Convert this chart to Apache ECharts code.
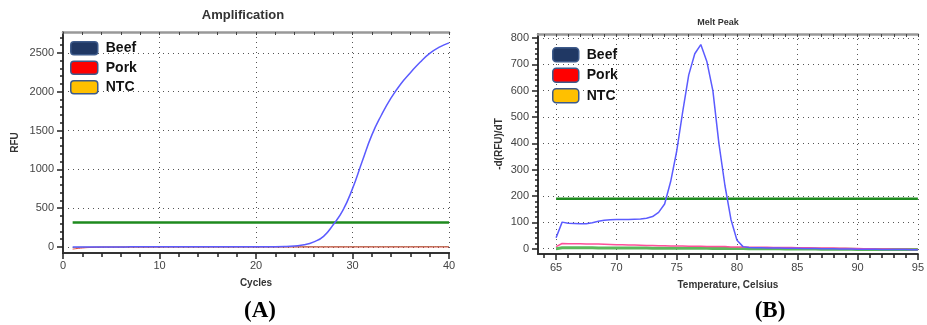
<!DOCTYPE html>
<html>
<head>
<meta charset="utf-8">
<script src="https://cdn.jsdelivr.net/npm/echarts@6/dist/echarts.min.js"></script>
<style>
  html, body { margin: 0; padding: 0; background: #fff; }
  #chart { width: 927px; height: 325px; }
</style>
</head>
<body>
<div id="chart"></div>
<script>
// Amplification panel (A)
const cycles = [1, 2, 3, 4, 5, 6, 7, 8, 9, 10, 11, 12, 13, 14, 15, 16, 17, 18, 19, 20,
  21, 22, 23, 24, 25, 26, 27, 28, 29, 30, 31, 32, 33, 34, 35, 36, 37, 38, 39, 40];
const beefRFU = [-4, -3, -3, -2, -2, -2, -1, -1, -1, 0, 0, 0, 0, 0, 0, 0, 0, 0, 0, 0,
  1, 1, 3, 10, 25, 64, 135, 285, 470, 750, 1100, 1440, 1700, 1920, 2100, 2245, 2380, 2495, 2575, 2630];
const porkRFU = [-30, -15, -8, -5, -4, -4, -3, -3, -3, -3, -2, -2, -2, -2, -2, -2, -2, -2, -2, -2,
  -2, -2, -2, -2, -2, -2, -2, -2, -2, -2, -2, -2, -2, -2, -2, -2, -2, -2, -2, -2];
const ntcRFU = [-10, -6, -4, -3, -3, -2, -2, -2, -2, -1, -1, -1, -1, -1, -1, -1, -1, -1, -1, -1,
  0, 0, 0, 1, 1, 1, 1, 1, 1, 2, 2, 2, 2, 2, 2, 2, 3, 3, 3, 3];
const ampThreshold = 313;
const ampYTicks = [0, 500, 1000, 1500, 2000, 2500];

// Melt peak panel (B)
const temps = [65, 65.5, 66, 66.5, 67, 67.5, 68, 68.5, 69, 69.5, 70, 70.5, 71, 71.5, 72, 72.5,
  73, 73.5, 74, 74.5, 75, 75.5, 76, 76.5, 77, 77.5, 78, 78.5, 79, 79.5, 80, 80.5,
  81, 81.5, 82, 82.5, 83, 83.5, 84, 84.5, 85, 85.5, 86, 86.5, 87, 87.5, 88, 88.5,
  89, 89.5, 90, 90.5, 91, 91.5, 92, 92.5, 93, 93.5, 94, 94.5, 95];
const beefMelt = [42, 101, 97, 96, 95, 95, 99, 104, 108, 110, 111, 111, 111, 112, 113, 116,
  122, 138, 170, 255, 370, 520, 660, 740, 775, 711, 600, 400, 240, 111, 32, 8,
  5, 4, 4, 3, 3, 3, 2, 2, 2, 1, 1, 1, 0, 0, 0, -1,
  -1, -1, -2, -2, -2, -2, -3, -3, -3, -3, -3, -4, -4];
const porkMelt = [8, 20, 19, 19, 19, 18, 18, 18, 17, 16, 15, 15, 14, 14, 13, 12,
  12, 11, 11, 10, 10, 10, 9, 9, 9, 8, 8, 8, 8, 7, 7, 7,
  6, 6, 6, 6, 5, 5, 5, 5, 4, 4, 4, 3, 3, 3, 3, 2,
  2, 1, 1, 0, 0, -1, -1, -1, -2, -2, -2, -3, -3];
const ntcMelt = [0, 4, 4, 4, 4, 4, 4, 3, 3, 3, 3, 3, 3, 3, 3, 3,
  2, 2, 2, 2, 2, 2, 2, 2, 2, 2, 1, 1, 1, 1, 1, 1,
  0, 0, 0, 0, 0, 0, -1, -1, -1, -1, -1, -1, -2, -2, -2, -2,
  -2, -2, -3, -3, -3, -3, -3, -3, -3, -3, -3, -3, -3];
const meltThreshold = 190;
const meltXTicks = [65, 70, 75, 80, 85, 90, 95];
const meltYTicks = [0, 100, 200, 300, 400, 500, 600, 700, 800];

const legendNames = ["Beef", "Pork", "NTC"];
const legendFills = ["#203864", "#ff0000", "#ffc000"];

function steps(from, to, step) {
  const out = [];
  for (let v = from; v <= to + 1e-9; v += step) out.push(+v.toFixed(3));
  return out;
}
function zip(xs, ys) {
  return xs.map((x, i) => [x, ys[i]]);
}

const font = "Liberation Sans";
const labelStyle = { fontSize: 11, color: "#444", fontFamily: font, formatter: (v) => String(v) };
const nameStyle = { fontSize: 10, fontWeight: "bold", color: "#333", fontFamily: font };
const dotted = { show: true, lineStyle: { color: "#555", type: [1, 4], width: 1 } };
const darkLine = { show: true, onZero: false, lineStyle: { color: "#333", width: 2 } };
const topLine = { show: true, onZero: false, lineStyle: { color: "#999", width: 2.5 } };

function legendFor(left, top, w, h) {
  return {
    orient: "vertical",
    left: left,
    top: top,
    itemWidth: w,
    itemHeight: h,
    itemGap: 5,
    icon: "roundRect",
    selectedMode: false,
    textStyle: { fontSize: 14, fontWeight: "bold", color: "#111", fontFamily: font, padding: [0, 0, 0, 3] },
    data: legendNames.map((n, i) => ({
      name: n,
      itemStyle: { color: legendFills[i], borderColor: "#3d5a8a", borderWidth: 1.5 },
    })),
  };
}

function line(name, xi, yi, data, color, width, smooth) {
  return {
    name: name,
    type: "line",
    xAxisIndex: xi,
    yAxisIndex: yi,
    data: data,
    showSymbol: false,
    smooth: smooth,
    animation: false,
    lineStyle: { color: color, width: width },
    itemStyle: { color: color },
  };
}

const chart = echarts.init(document.getElementById("chart"));

chart.setOption({
  backgroundColor: "#fff",
  animation: false,
  grid: [
    { left: 63, top: 32, width: 386, height: 221 },
    { left: 538, top: 34, width: 381, height: 220 },
  ],
  legend: [legendFor(65, 36, 27, 13), legendFor(547, 42, 26, 14)],
  xAxis: [
    {
      gridIndex: 0, type: "value", position: "bottom", min: 0, max: 40, interval: 10,
      axisLine: darkLine,
      axisTick: { show: true, length: 6, lineStyle: { color: "#222", width: 1.5 } },
      minorTick: { show: true, splitNumber: 5, length: 4, lineStyle: { color: "#222", width: 1.5 } },
      axisLabel: Object.assign({ margin: 7 }, labelStyle),
      splitLine: dotted,
      name: "Cycles", nameLocation: "middle", nameGap: 25, nameTextStyle: nameStyle,
    },
    {
      gridIndex: 0, type: "value", position: "top", min: 0, max: 40, interval: 2,
      axisLine: topLine,
      axisTick: { show: true, inside: true, length: 3, lineStyle: { color: "#444" } },
      axisLabel: { show: false }, splitLine: { show: false },
    },
    {
      gridIndex: 1, type: "value", position: "bottom", min: 63.5, max: 95,
      axisLine: darkLine,
      axisTick: { show: true, length: 6, customValues: meltXTicks, lineStyle: { color: "#222", width: 1.5 } },
      axisLabel: Object.assign({ margin: 8, customValues: meltXTicks }, labelStyle),
      splitLine: dotted,
      name: "Temperature, Celsius", nameLocation: "middle", nameGap: 26, nameTextStyle: nameStyle,
    },
    {
      gridIndex: 1, type: "value", position: "bottom", min: 63.5, max: 95,
      axisLine: { show: false, onZero: false },
      axisTick: { show: true, length: 4, customValues: steps(64, 95, 1), lineStyle: { color: "#222", width: 1.5 } },
      axisLabel: { show: false }, splitLine: { show: false },
    },
    {
      gridIndex: 1, type: "value", position: "top", min: 63.5, max: 95,
      axisLine: topLine,
      axisTick: { show: true, inside: true, length: 3, customValues: steps(64, 95, 1), lineStyle: { color: "#444" } },
      axisLabel: { show: false }, splitLine: { show: false },
    },
  ],
  yAxis: [
    {
      gridIndex: 0, type: "value", position: "left", min: -80, max: 2770,
      axisLine: darkLine,
      axisTick: { show: true, length: 6, customValues: ampYTicks, lineStyle: { color: "#222", width: 1.5 } },
      axisLabel: Object.assign({ margin: 9, customValues: ampYTicks }, labelStyle),
      splitLine: dotted,
      name: "RFU", nameLocation: "middle", nameGap: 43, nameTextStyle: nameStyle,
    },
    {
      gridIndex: 0, type: "value", position: "left", min: -80, max: 2770,
      axisLine: { show: false, onZero: false },
      axisTick: { show: true, length: 3, customValues: steps(0, 2700, 100), lineStyle: { color: "#222", width: 1.5 } },
      axisLabel: { show: false }, splitLine: { show: false },
    },
    {
      gridIndex: 1, type: "value", position: "left", min: -20, max: 815,
      axisLine: darkLine,
      axisTick: { show: true, length: 6, customValues: meltYTicks, lineStyle: { color: "#222", width: 1.5 } },
      axisLabel: Object.assign({ margin: 9, customValues: meltYTicks }, labelStyle),
      splitLine: dotted,
      name: "-d(RFU)/dT", nameLocation: "middle", nameGap: 34, nameTextStyle: nameStyle,
    },
    {
      gridIndex: 1, type: "value", position: "left", min: -20, max: 815,
      axisLine: { show: false, onZero: false },
      axisTick: { show: true, length: 3, customValues: steps(0, 800, 20), lineStyle: { color: "#222", width: 1.5 } },
      axisLabel: { show: false }, splitLine: { show: false },
    },
  ],
  series: [
    line("Threshold", 0, 0, [[cycles[0], ampThreshold], [cycles[cycles.length - 1], ampThreshold]], "#1e8a1e", 2.5, false),
    line("NTC", 0, 0, zip(cycles, ntcRFU), "#8a9a6a", 1, true),
    line("Pork", 0, 0, zip(cycles, porkRFU), "#e0403a", 1, true),
    line("Beef", 0, 0, zip(cycles, beefRFU), "#5b5bff", 1.5, true),

    line("Threshold", 2, 2, [[temps[0], meltThreshold], [temps[temps.length - 1], meltThreshold]], "#1e8a1e", 2.5, false),
    line("NTC", 2, 2, zip(temps, ntcMelt), "#5cb85c", 3, false),
    line("Pork", 2, 2, zip(temps, porkMelt), "#ff4f9a", 1.5, false),
    line("Beef", 2, 2, zip(temps, beefMelt), "#5b5bff", 1.5, false),
  ],
  graphic: [
    { type: "text", x: 243, y: 15, style: { text: "Amplification", align: "center", verticalAlign: "middle", font: 'bold 13px "Liberation Sans"', fill: "#333" } },
    { type: "text", x: 718, y: 23, style: { text: "Melt Peak", align: "center", verticalAlign: "middle", font: 'bold 9px "Liberation Sans"', fill: "#333" } },
    { type: "text", x: 260, y: 311, style: { text: "(A)", align: "center", verticalAlign: "middle", font: 'bold 23px "Liberation Serif"', fill: "#000" } },
    { type: "text", x: 770, y: 311, style: { text: "(B)", align: "center", verticalAlign: "middle", font: 'bold 23px "Liberation Serif"', fill: "#000" } },
  ],
});
</script>
</body>
</html>
